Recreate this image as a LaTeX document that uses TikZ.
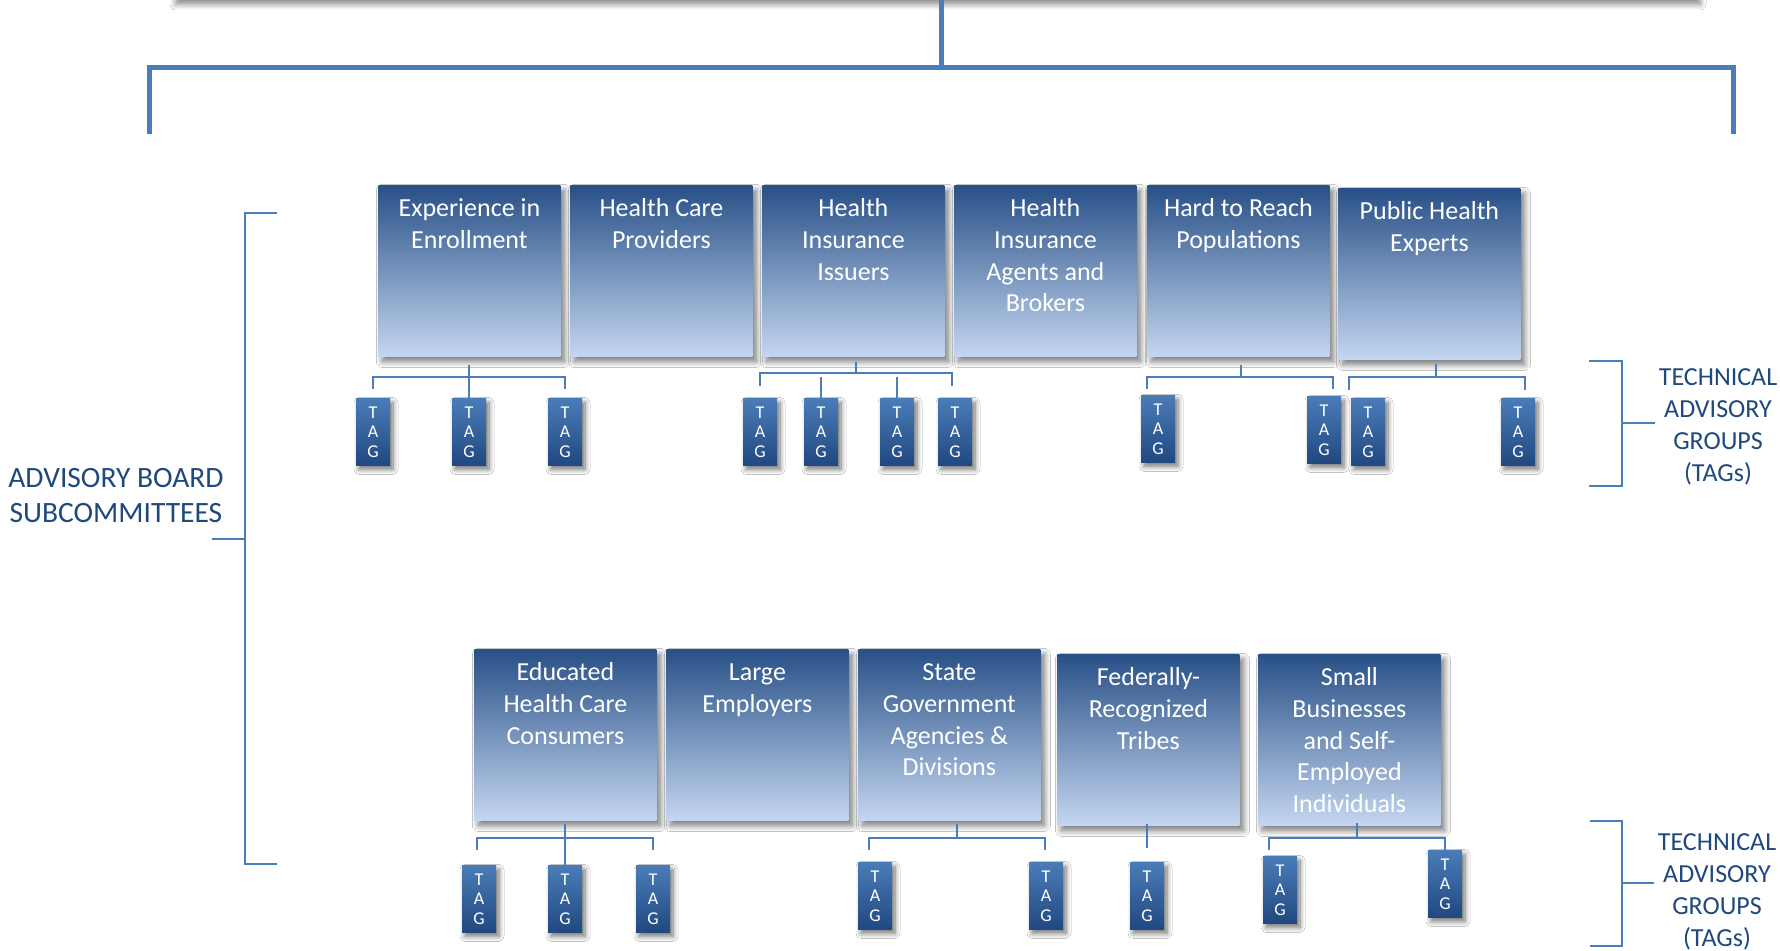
\documentclass[tikz,border=0pt]{standalone}
\usepackage{fontspec}
\setmainfont{Carlito}
\usetikzlibrary{shadows.blur,calc}
\definecolor{linecol}{RGB}{74,126,187}
\definecolor{labcol}{RGB}{31,73,125}
\definecolor{boxtop}{RGB}{40,80,135}
\definecolor{boxbot}{RGB}{196,214,240}
\definecolor{tagtop}{RGB}{74,124,184}
\definecolor{tagbot}{RGB}{33,72,128}
\newcommand\mybtext[2]{\node[btxt] at ([yshift=-15.75pt]#1.north) {\parbox[t]{90pt}{\centering #2}};}
\begin{document}
\begin{tikzpicture}[x=0.5pt,y=-0.5pt,
  shad/.style={blur shadow={shadow xshift=2pt, shadow yshift=-2.5pt, shadow blur radius=3pt, shadow blur steps=10, shadow opacity=55}},
  sub/.style={rectangle, inner sep=0, anchor=north west, minimum width=91pt, minimum height=85.5pt, top color=boxtop, bottom color=boxbot, draw=none, shad},
  tagbox/.style={rectangle, inner sep=0, anchor=north, minimum width=17pt, minimum height=33.5pt, top color=tagtop, bottom color=tagbot, draw=none, text=white, font=\fontsize{9}{9.8}\selectfont, align=center, blur shadow={shadow xshift=1.5pt, shadow yshift=-2pt, shadow blur radius=2.5pt, shadow blur steps=8, shadow opacity=55}},
  btxt/.style={inner sep=0, anchor=base, text=white, font=\fontsize{13}{15.9}\selectfont},
  lab/.style={inner sep=0, anchor=base, text=labcol},
  conn/.style={draw=linecol, line width=1pt},
  trunk/.style={draw=linecol, line width=2.5pt}]
\useasboundingbox (0,0) rectangle (1780,951);
\fill[white] (0,0) rectangle (1780,951);
% cut-off top box
\path[fill=white, blur shadow={shadow xshift=0pt, shadow yshift=-2.5pt, shadow blur radius=3pt, shadow blur steps=8, shadow opacity=50}] (176,-80) rectangle (1700,-1);
% trunk
\coordinate (top) at (941,0);
\coordinate (tj) at (941,68);
\coordinate (tl) at (149,134);
\coordinate (tr) at (1733,134);
\draw[trunk] (top) -- (tj);
\draw[trunk, line join=miter] (tl) |- (tj) -| (tr);

% ---- top row boxes
\node[sub] (b1) at (378,185) {};
\node[sub] (b2) at (570,185) {};
\node[sub] (b3) at (762,185) {};
\node[sub] (b4) at (954,185) {};
\node[sub] (b5) at (1147,185) {};
\node[sub] (b6) at (1338,188) {};
\mybtext{b1}{Experience in\\Enrollment}
\mybtext{b2}{Health Care\\Providers}
\mybtext{b3}{Health\\Insurance\\Issuers}
\mybtext{b4}{Health\\Insurance\\Agents and\\Brokers}
\mybtext{b5}{Hard to Reach\\Populations}
\mybtext{b6}{Public Health\\Experts}

% ---- bottom row boxes
\node[sub] (c1) at (474,649) {};
\node[sub] (c2) at (666,649) {};
\node[sub] (c3) at (858,649) {};
\node[sub] (c4) at (1057,654) {};
\node[sub] (c5) at (1258,654) {};
\mybtext{c1}{Educated\\Health Care\\Consumers}
\mybtext{c2}{Large\\Employers}
\mybtext{c3}{State\\Government\\Agencies \&\\Divisions}
\mybtext{c4}{Federally-\\Recognized\\Tribes}
\mybtext{c5}{Small\\Businesses\\and Self-\\Employed\\Individuals}

% ---- top row TAGs
\node[tagbox] (t11) at (373,398) {T\\A\\G};
\node[tagbox] (t12) at (469,398) {T\\A\\G};
\node[tagbox] (t13) at (565,398) {T\\A\\G};
\node[tagbox] (t31) at (760,398) {T\\A\\G};
\node[tagbox] (t32) at (821,398) {T\\A\\G};
\node[tagbox] (t33) at (897,398) {T\\A\\G};
\node[tagbox] (t34) at (955,398) {T\\A\\G};
\node[tagbox] (t51) at (1158,395) {T\\A\\G};
\node[tagbox] (t52) at (1324,396) {T\\A\\G};
\node[tagbox] (t61) at (1368,398) {T\\A\\G};
\node[tagbox] (t62) at (1518,398) {T\\A\\G};

% ---- bottom row TAGs
\node[tagbox] (u11) at (479,865) {T\\A\\G};
\node[tagbox] (u12) at (565,865) {T\\A\\G};
\node[tagbox] (u13) at (653,865) {T\\A\\G};
\node[tagbox] (u31) at (875,862) {T\\A\\G};
\node[tagbox] (u32) at (1046,862) {T\\A\\G};
\node[tagbox] (u41) at (1147,862) {T\\A\\G};
\node[tagbox] (u51) at (1280,856) {T\\A\\G};
\node[tagbox] (u52) at (1445,850) {T\\A\\G};

% ---- top connectors
\coordinate (j1) at (469,377);
\draw[conn] ($(b1.south -| j1)+(0,-4pt)$) -- (t12.north);
\draw[conn] ($(t11.north)+(0,4.5pt)$) |- (j1) -| ($(t13.north)+(0,4.5pt)$);

\coordinate (j3) at (856,373);
\draw[conn] ($(b3.south -| j3)+(0,-2.5pt)$) -- (j3);
\draw[conn] ($(t31.north)+(0,6pt)$) |- (j3) -| ($(t34.north)+(0,6pt)+(-1.5pt,0)$);
\draw[conn] ($(t32.north)+(0,10.5pt)$) -- (t32.north);
\draw[conn] ($(t33.north)+(0,10.5pt)$) -- (t33.north);

\coordinate (j5) at (1241,377);
\draw[conn] ($(b5.south -| j5)+(0,-4pt)$) -- (j5);
\draw[conn] ($(t51.north)+(-5.5pt,3pt)$) |- (j5) -| ($(t52.north)+(4.25pt,3.5pt)$);

\coordinate (j6) at (1436,377);
\draw[conn] ($(b6.south -| j6)+(0,-2pt)$) -- (j6);
\draw[conn] ($(t61.north)+(-9.75pt,4pt)$) |- (j6) -| ($(t62.north)+(3.25pt,4pt)$);

% ---- bottom connectors
\coordinate (k1) at (565,838);
\draw[conn] ($(c1.south -| k1)+(0,-1.5pt)$) -- (u12.north);
\draw[conn] ($(u11.north)+(-1pt,7.5pt)$) |- (k1) -| ($(u13.north)+(0,7.5pt)$);

\coordinate (k3) at (957,838);
\draw[conn] ($(c3.south -| k3)+(0,-1.5pt)$) -- (k3);
\draw[conn] ($(u31.north)+(-3pt,6pt)$) |- (k3) -| ($(u32.north)+(-0.5pt,6pt)$);

\draw[conn] ($(c4.south -| u41.north)+(0,1pt)$) -- ($(u41.north)+(0,7pt)$);

\coordinate (k5) at (1357,838);
\draw[conn] ($(c5.south -| k5)+(0,1.5pt)$) -- (k5);
\draw[conn] ($(u51.north)+(-5.5pt,3pt)$) |- (k5) -| (u52.north);

% ---- brackets and labels
\node[lab, font=\fontsize{14.75}{17.5}\selectfont] (adv) at (116,487) {\parbox[t]{130pt}{\centering ADVISORY BOARD\\SUBCOMMITTEES}};
\coordinate (lt) at (277,213);
\coordinate (lb) at (277,864);
\coordinate (lm) at (212,539);
\draw[conn] (lt) -- (245,213) -- (245,864) -- (lb);
\draw[conn] (lm) -- (245,539);

\node[lab, font=\fontsize{13}{16}\selectfont] (tg1) at (1718,385.4) {\parbox[t]{80pt}{\centering TECHNICAL\\ADVISORY\\GROUPS\\(TAGs)}};
\draw[conn] (1589,361) -- (1622,361) -- (1622,486) -- (1589,486);
\draw[conn] (1622,423) -- (1655,423);

\node[lab, font=\fontsize{13}{16}\selectfont] (tg2) at (1717,850.4) {\parbox[t]{80pt}{\centering TECHNICAL\\ADVISORY\\GROUPS\\(TAGs)}};
\draw[conn] (1590,821) -- (1622,821) -- (1622,946) -- (1590,946);
\draw[conn] (1622,883) -- (1654,883);
\end{tikzpicture}
\end{document}
